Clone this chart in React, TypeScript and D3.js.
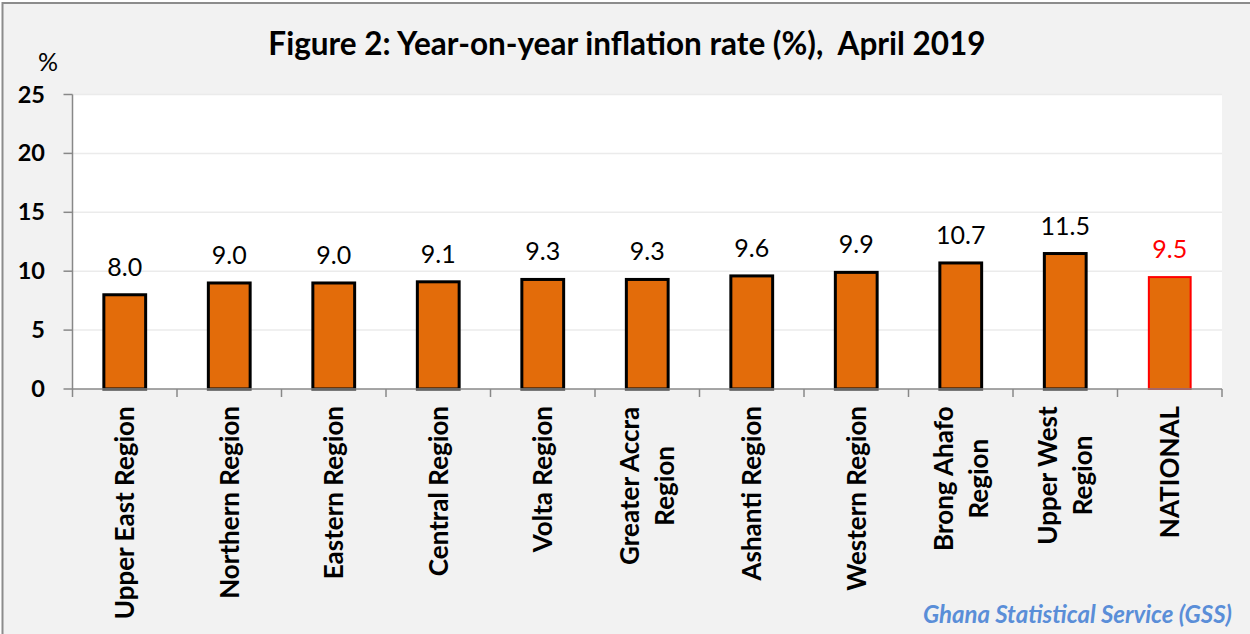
import React from "react";
import * as d3 from "d3";

const categories = [
  "Upper East Region",
  "Northern Region",
  "Eastern Region",
  "Central Region",
  "Volta Region",
  "Greater Accra\nRegion",
  "Ashanti Region",
  "Western Region",
  "Brong Ahafo\nRegion",
  "Upper West\nRegion",
  "NATIONAL",
];
const values = [8.0, 9.0, 9.0, 9.1, 9.3, 9.3, 9.6, 9.9, 10.7, 11.5, 9.5];
const yTicks = [0, 5, 10, 15, 20, 25];
const highlightCategory = "NATIONAL";
const titleText = "Figure 2: Year-on-year inflation rate (%),  April 2019";
const unitText = "%";
const sourceText = "Ghana Statistical Service (GSS)";

const W = 1250;
const H = 634;
const FONT = "Lato, 'Open Sans', sans-serif";
const plot = { left: 72.5, right: 1222, top: 94.5, bottom: 389 };

const catFontSize = 26;
const catLineH = 35;

let ctx: CanvasRenderingContext2D | null = null;
function measure(text: string, font: string) {
  if (!ctx) ctx = document.createElement("canvas").getContext("2d");
  if (!ctx) return text.length * 12;
  ctx.font = font;
  return ctx.measureText(text).width;
}

export default function App() {
  const x = d3
    .scaleBand<string>()
    .domain(categories)
    .range([plot.left, plot.right])
    .paddingInner(0.6)
    .paddingOuter(0.3);
  const y = d3.scaleLinear().domain([0, 25]).range([plot.bottom, plot.top]);
  const step = x.step();
  const boundaries = d3.range(categories.length + 1).map((i) => plot.left + i * step);

  return (
    <svg
      width={W}
      height={H}
      style={{ position: "absolute", left: 0, top: 0, display: "block" }}
      fontFamily={FONT}
    >
      <rect x={0} y={0} width={W} height={H} fill="#ffffff" />
      <rect x={2.5} y={3} width={W + 20} height={H + 20} fill="#f2f2f2" stroke="#8c8c8c" strokeWidth={2} />
      <rect
        x={plot.left}
        y={plot.top}
        width={plot.right - plot.left}
        height={plot.bottom - plot.top}
        fill="#ffffff"
      />
      {/* gridlines */}
      {yTicks.filter((t) => t > 0).map((t) => (
        <line key={t} x1={plot.left} x2={plot.right} y1={y(t)} y2={y(t)} stroke="#ebebeb" strokeWidth={1.5} />
      ))}
      {/* title */}
      <text
        x={627}
        y={55}
        textAnchor="middle"
        fontWeight="bold"
        fontSize={31.5}
        fill="#000"
        style={{ whiteSpace: "pre" }}
      >
        {titleText}
      </text>
      <text x={48} y={71} textAnchor="middle" fontSize={25} fill="#000">
        {unitText}
      </text>
      {/* y axis */}
      <line x1={plot.left} x2={plot.left} y1={plot.top} y2={plot.bottom} stroke="#888" strokeWidth={1.5} />
      {yTicks.map((t) => (
        <g key={t}>
          <line x1={plot.left - 9} x2={plot.left} y1={y(t)} y2={y(t)} stroke="#888" strokeWidth={1.5} />
          <text x={45} y={y(t) + 8} textAnchor="end" fontWeight="bold" fontSize={23.5} fill="#000">
            {t}
          </text>
        </g>
      ))}
      {/* bars */}
      {categories.map((c, i) => {
        const hl = c === highlightCategory;
        const bx = x(c)!;
        const bw = x.bandwidth();
        return (
          <g key={c}>
            <rect
              x={bx}
              y={y(values[i])}
              width={bw}
              height={y(0) - y(values[i])}
              fill="#e36c0a"
              stroke={hl ? "#ff0000" : "#000"}
              strokeWidth={hl ? 2 : 3}
            />
            <text
              x={bx + bw / 2}
              y={y(values[i]) - 19}
              textAnchor="middle"
              fontSize={25}
              fill={hl ? "#ff0000" : "#000"}
            >
              {values[i].toFixed(1)}
            </text>
          </g>
        );
      })}
      {/* x axis */}
      <line x1={plot.left} x2={plot.right} y1={plot.bottom} y2={plot.bottom} stroke="#888" strokeWidth={1.5} />
      {boundaries.map((bxv, i) => (
        <line key={i} x1={bxv} x2={bxv} y1={plot.bottom} y2={plot.bottom + 8} stroke="#888" strokeWidth={1.5} />
      ))}
      {categories.map((c) => {
        const lines = c.split("\n");
        const font = `bold ${catFontSize}px Lato`;
        const maxW = Math.max(...lines.map((l) => measure(l, font)));
        const cx = x(c)! + x.bandwidth() / 2;
        return (
          <g key={c} transform={`translate(${cx},${406}) rotate(-90)`}>
            {lines.map((l, j) => (
              <text
                key={j}
                x={-maxW / 2}
                y={(j - (lines.length - 1) / 2) * catLineH}
                dy="0.36em"
                textAnchor="middle"
                fontWeight="bold"
                fontSize={catFontSize}
                fill="#000"
              >
                {l}
              </text>
            ))}
          </g>
        );
      })}
      {/* source */}
      <text
        x={1232}
        y={623}
        textAnchor="end"
        fontWeight="bold"
        fontStyle="italic"
        fontSize={24}
        fill="#5a8ed8"
      >
        {sourceText}
      </text>
    </svg>
  );
}
